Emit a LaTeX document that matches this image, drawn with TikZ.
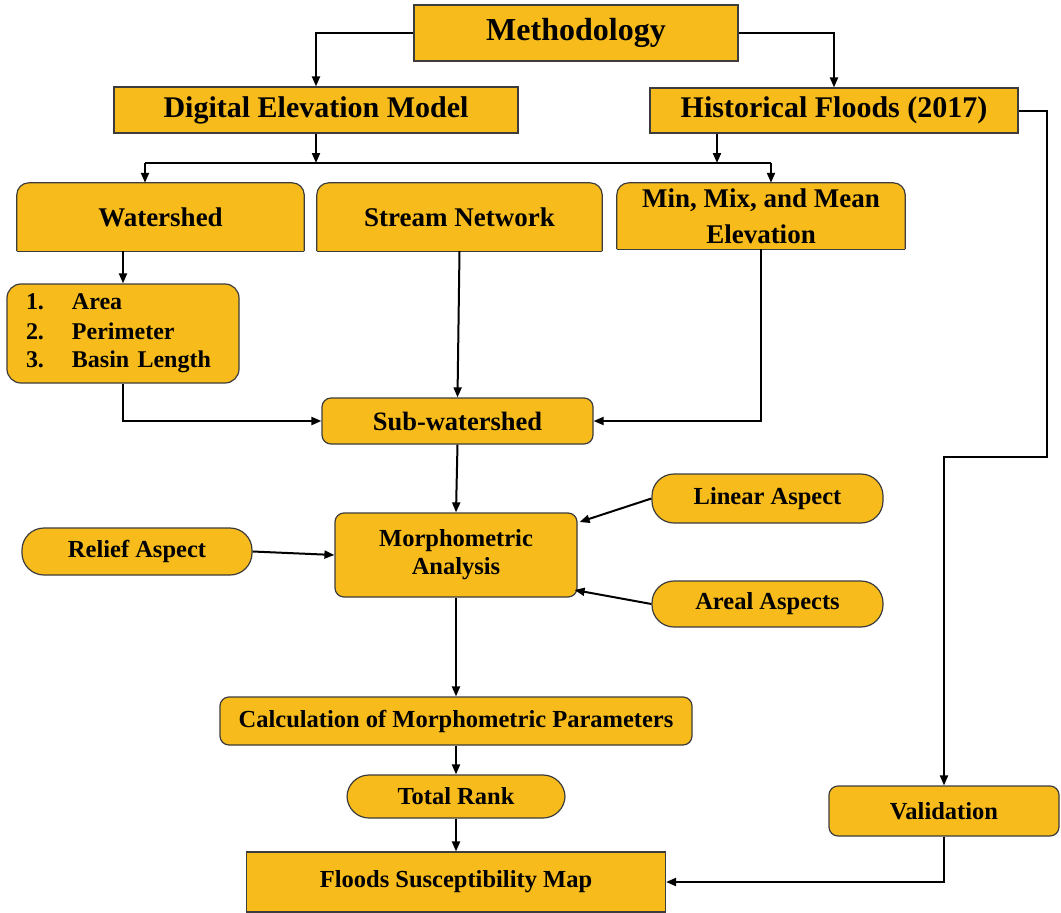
\documentclass[tikz,border=0pt]{standalone}
\usepackage{fontspec}
\setmainfont{Liberation Serif}
\usetikzlibrary{arrows.meta,calc,backgrounds}
\definecolor{boxfill}{RGB}{247,188,28}
\definecolor{bordercol}{RGB}{60,60,60}
\tikzset{
  box/.style={draw=bordercol, line width=1.2pt, fill=boxfill, align=center, inner sep=0pt},
  sq/.style={box},
  rnd/.style={box, rounded corners=9pt},
  stad/.style={box, rounded corners=22pt},
  topr/.style={align=center, inner sep=0pt},
  conn/.style={line width=2pt, -{Triangle[length=10pt,width=8pt]}},
  plain/.style={line width=2pt},
  fa/.style={font=\bfseries\fontsize{32}{36}\selectfont},
  fb/.style={font=\bfseries\fontsize{30}{34}\selectfont},
  fc/.style={font=\bfseries\fontsize{27}{36}\selectfont},
  fd/.style={font=\bfseries\fontsize{24.5}{28}\selectfont},
  fe/.style={font=\bfseries\fontsize{26.5}{30}\selectfont},
}
\begin{document}
\begin{tikzpicture}[x=1pt,y=-1pt]
\useasboundingbox (0,0) rectangle (1061,913);
\begin{scope}[on background layer]
  \fill[white] (0,0) rectangle (1061,913);
\end{scope}

% nodes
\node[sq, fa, minimum width=324, minimum height=56] (meth) at (576,33) {Methodology};
\node[sq, fb, minimum width=404, minimum height=46] (dem) at (316,110) {Digital Elevation Model};
\node[sq, fb, minimum width=368, minimum height=45] (hist) at (834,110.5) {Historical Floods (2017)};

\node[topr, fc, minimum width=287, minimum height=68] (ws) at (160.5,217) {Watershed};
\node[topr, fc, minimum width=285, minimum height=68] (sn) at (459.5,217) {Stream Network};
\node[topr, fc, minimum width=288, minimum height=66] (mm) at (761,216) {Min, Mix, and Mean\\Elevation};

\node[box, rounded corners=14pt, fd, minimum width=232, minimum height=99, text width=194, align=left] (list) at (123,333.5)
  {\fontsize{24}{30}\selectfont\makebox[46pt][l]{1.}Area\\\makebox[46pt][l]{2.}Perimeter\\\makebox[46pt][l]{3.}Basin Length};

\node[rnd, fe, minimum width=271, minimum height=46] (sub) at (457.5,421) {Sub-watershed};
\node[rnd, fd, minimum width=242, minimum height=84] (morph) at (456,555) {Morphometric\\Analysis};
\node[stad, fd, minimum width=231, minimum height=49] (lin) at (767.5,498.5) {Linear Aspect};
\node[stad, fd, minimum width=231, minimum height=46] (are) at (767.5,604) {Areal Aspects};
\node[stad, fd, minimum width=230, minimum height=47] (rel) at (137,551.5) {Relief Aspect};
\node[rnd, fd, minimum width=472, minimum height=48] (calc) at (456,721) {Calculation of Morphometric Parameters};
\node[stad, fd, minimum width=218, minimum height=43] (tot) at (456,796.5) {Total Rank};
\node[sq, fd, minimum width=419, minimum height=60] (fsm) at (456,882) {Floods Susceptibility Map};
\node[rnd, fd, minimum width=230, minimum height=50] (val) at (944,811) {Validation};

% top-rounded boxes
\begin{scope}[on background layer]
\foreach \n in {ws,sn,mm}{
  \fill[boxfill, rounded corners=12pt] (\n.south west) rectangle (\n.north east);
  \fill[boxfill] (\n.south west) rectangle (\n.east);
  \draw[bordercol, line width=1.2pt, rounded corners=12pt] (\n.south west) -- (\n.north west) -- (\n.north east) -- (\n.south east);
  \draw[bordercol, line width=1.2pt] (\n.south west) -- (\n.south east);
}
\end{scope}

% coordinates
\coordinate (busL) at (145,163);
\coordinate (busR) at (771,163);
\coordinate (hx) at (717,163);
\coordinate (r1) at (1047,457);

% connectors
\draw[conn] (meth.west) -| (dem.north);
\draw[conn] (meth.east) -| (hist.north);
\draw[plain] (busL) -- (busR);
\draw[conn] (dem.south) -- (dem.south |- busL);
\draw[conn] (hist.south -| hx) -- (hx);
\draw[conn] (busL) -- (busL |- ws.north);
\draw[conn] (busR) -- (busR |- mm.north);
\draw[conn] (list.north |- ws.south) -- (list.north);
\draw[conn] (list.south) |- (sub.west);
\draw[conn] (sn.south) -- (sub.north);
\draw[conn] (mm.south) |- (sub.east);
\draw[conn] (sub.south) -- (morph.north);
\draw[conn] (rel.east) -- (morph.west);
\draw[conn] (lin.west) -- ($(morph.east)+(2,-33)$);
\draw[conn] (are.west) -- ($(morph.east)+(-3,35)$);
\draw[conn] (morph.south) -- (calc.north);
\draw[conn] (calc.south) -- (tot.north);
\draw[conn] (tot.south) -- (fsm.north);
\draw[conn] (hist.east) -| (r1) -| (val.north);
\draw[conn] (val.south) |- (fsm.east);
\end{tikzpicture}
\end{document}
